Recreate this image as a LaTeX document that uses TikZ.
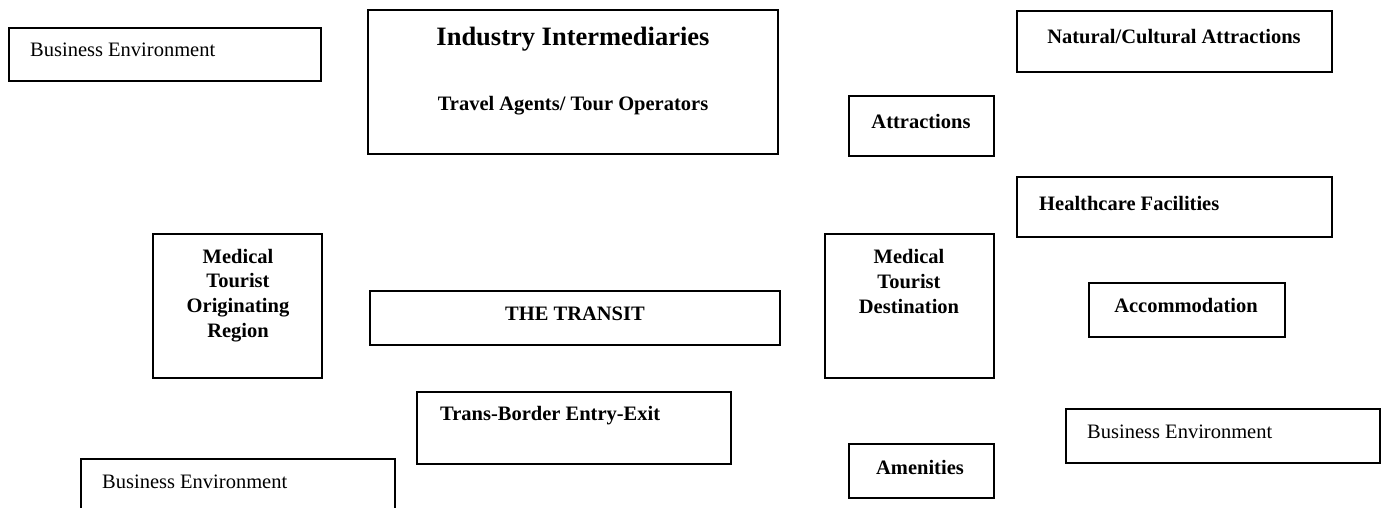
\documentclass[tikz,border=0pt]{standalone}
\usepackage{fontspec}
\setmainfont{Liberation Serif}
\begin{document}
\begin{tikzpicture}[x = 1pt, y = -1pt,
    box/.style = {line width = 2pt},
    lbl/.style = {inner sep = 0pt, font = \fontsize{20.5}{24.6}\selectfont},
    blbl/.style = {lbl, font = \fontsize{20.5}{24.6}\selectfont\bfseries},
    head/.style = {lbl, font = \fontsize{26.5}{32}\selectfont\bfseries}]

    \clip (0,0) rectangle (1382,508);
    % frames
    \foreach \xa/\ya/\xb/\yb in {9/28/321/81, 368/10/778/154, 1017/11/1332/72,
        849/96/994/156, 1017/177/1332/237, 153/234/322/378, 825/234/994/378,
        370/291/780/345, 1089/283/1285/337, 417/392/731/464, 1066/409/1380/463,
        849/444/994/498, 81/459/395/530} {
      \draw [box] (\xa,\ya) rectangle (\xb,\yb);
    }
    % labels
    \node [lbl, anchor = base west] (envtl) at (30,57) {Business Environment};
    \node [head, anchor = base] (inter) at (573,46) {Industry Intermediaries};
    \node [blbl, anchor = base] (agents) at (573,111) {Travel Agents/ Tour Operators};
    \node [blbl, anchor = base] (natural) at (1174,44) {Natural/Cultural Attractions};
    \node [blbl, anchor = base] (attr) at (921,129) {Attractions};
    \node [blbl, anchor = base west] (health) at (1039,210) {Healthcare Facilities};
    % last line sets the base
    \node [blbl, anchor = base, align = center] (origin) at (238,337) {Medical\\Tourist\\Originating\\Region};
    \node [blbl, anchor = base, align = center] (dest) at (909,313) {Medical\\Tourist\\Destination};
    \node [blbl, anchor = base] (transit) at (575,320) {THE TRANSIT};
    \node [blbl, anchor = base] (accom) at (1186,312) {Accommodation};
    \node [blbl, anchor = base west] (border) at (440,420) {Trans-Border Entry-Exit};
    \node [lbl, anchor = base west] (envr) at (1087,438) {Business Environment};
    \node [blbl, anchor = base] (amen) at (920,474) {Amenities};
    \node [lbl, anchor = base west] (envbl) at (102,488) {Business Environment};
\end{tikzpicture}
\end{document}
